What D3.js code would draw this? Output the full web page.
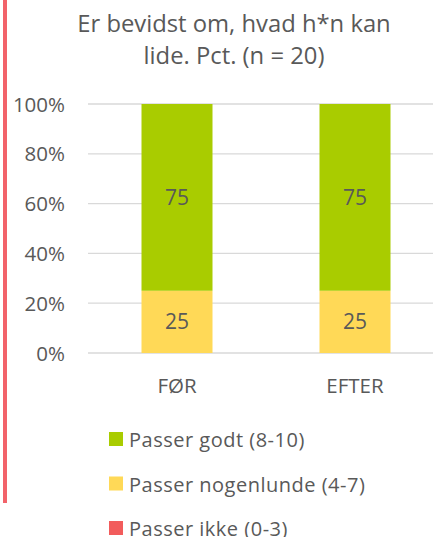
<!DOCTYPE html>
<html>
<head>
<meta charset="utf-8">
<script src="https://cdn.jsdelivr.net/npm/d3@7"></script>
<style>
  body { margin: 0; background: #fff; }
  svg { display: block; font-family: "Open Sans", sans-serif; }
</style>
</head>
<body>
<svg id="chart" width="433" height="537"></svg>
<script>
/************
** data
*************/
var categories = ["FØR", "EFTER"];
var seriesNames = ["Passer ikke (0-3)", "Passer nogenlunde (4-7)", "Passer godt (8-10)"];
var ikke = [0, 0];
var nogenlunde = [25, 25];
var godt = [75, 75];
var yTicks = [0, 20, 40, 60, 80, 100];
var titleLines = ["Er bevidst om, hvad h*n kan", "lide. Pct. (n = 20)"];

/************
** colors
*************/
var colors = ["#f25c5c", "#ffd957", "#a9cc00"];
var fontColor = "#595959";
var gridColor = "#d9d9d9";

var svg = d3.select("#chart");

// red bar along the left edge
svg.append("rect").attr("x", 3).attr("y", 0).attr("width", 4).attr("height", 503).attr("fill", "#f2636a");

// title
svg.append("text")
    .attr("x", 234).attr("y", 32)
    .attr("text-anchor", "middle")
    .attr("font-size", 23.8).attr("fill", fontColor)
    .selectAll("tspan").data(titleLines).enter().append("tspan")
        .attr("x", 234).attr("dy", function(d, i){ return i ? 32 : 0; })
        .text(function(d){ return d; });

/*********
** scales
**********/
var x = d3.scaleBand().domain(categories).range([88, 444]).paddingInner(0).paddingOuter(0);
var y = d3.scaleLinear().domain([0, 100]).range([353, 104]);

// grid
svg.append("g").selectAll("line").data(yTicks).enter().append("line")
    .attr("x1", 88).attr("x2", 433)
    .attr("y1", function(d){ return y(d); }).attr("y2", function(d){ return y(d); })
    .attr("stroke", gridColor).attr("stroke-width", 1.3);

// y axis
var yAxis = d3.axisLeft(y).tickValues(yTicks).tickSize(0).tickPadding(0)
    .tickFormat(function(d){ return d + "%"; });
var yg = svg.append("g").attr("transform", "translate(65,0)").call(yAxis);
yg.select(".domain").remove();
yg.selectAll("text").attr("font-size", 20.5).attr("fill", fontColor)
    .attr("font-family", "Open Sans, sans-serif").attr("dy", "0.35em");

// x axis
var xAxis = d3.axisBottom(x).tickSize(0).tickPadding(0);
var xg = svg.append("g").attr("transform", "translate(0,378)").call(xAxis);
xg.select(".domain").remove();
xg.selectAll("text").attr("font-size", 20.5).attr("fill", fontColor)
    .attr("font-family", "Open Sans, sans-serif").attr("dy", "0.71em");

/*********
** bars
**********/
var rows = categories.map(function(c, i){
    return { cat: c, ikke: ikke[i], nogenlunde: nogenlunde[i], godt: godt[i] };
});
var stack = d3.stack().keys(["ikke", "nogenlunde", "godt"]);
var layers = stack(rows);
var barW = 71;

var layer = svg.append("g").selectAll("g").data(layers).enter().append("g")
    .attr("fill", function(d, i){ return colors[i]; });
layer.selectAll("rect").data(function(d){ return d; }).enter().append("rect")
    .attr("x", function(d){ return x(d.data.cat) + x.bandwidth() / 2 - barW / 2; })
    .attr("width", barW)
    .attr("y", function(d){ return y(d[1]); })
    .attr("height", function(d){ return y(d[0]) - y(d[1]); });

// value labels
layer.selectAll("text").data(function(d){ return d.filter(function(p){ return p[1] - p[0] > 0; }); })
    .enter().append("text")
    .attr("x", function(d){ return x(d.data.cat) + x.bandwidth() / 2; })
    .attr("y", function(d){ return y((d[0] + d[1]) / 2); })
    .attr("dy", "0.35em")
    .attr("text-anchor", "middle")
    .attr("font-size", 21).attr("fill", fontColor)
    .text(function(d){ return d[1] - d[0]; });

/*********
** legend
**********/
var legendOrder = [2, 1, 0];
var legend = svg.append("g").selectAll("g").data(legendOrder).enter().append("g")
    .attr("transform", function(d, i){ return "translate(109," + (432 + i * 44.5) + ")"; });
legend.append("rect").attr("width", 14).attr("height", 14)
    .attr("fill", function(d){ return colors[d]; });
legend.append("text").attr("x", 20).attr("y", 15)
    .attr("font-size", 20).attr("letter-spacing", 0.5).attr("fill", fontColor)
    .text(function(d){ return seriesNames[d]; });
</script>
</body>
</html>
